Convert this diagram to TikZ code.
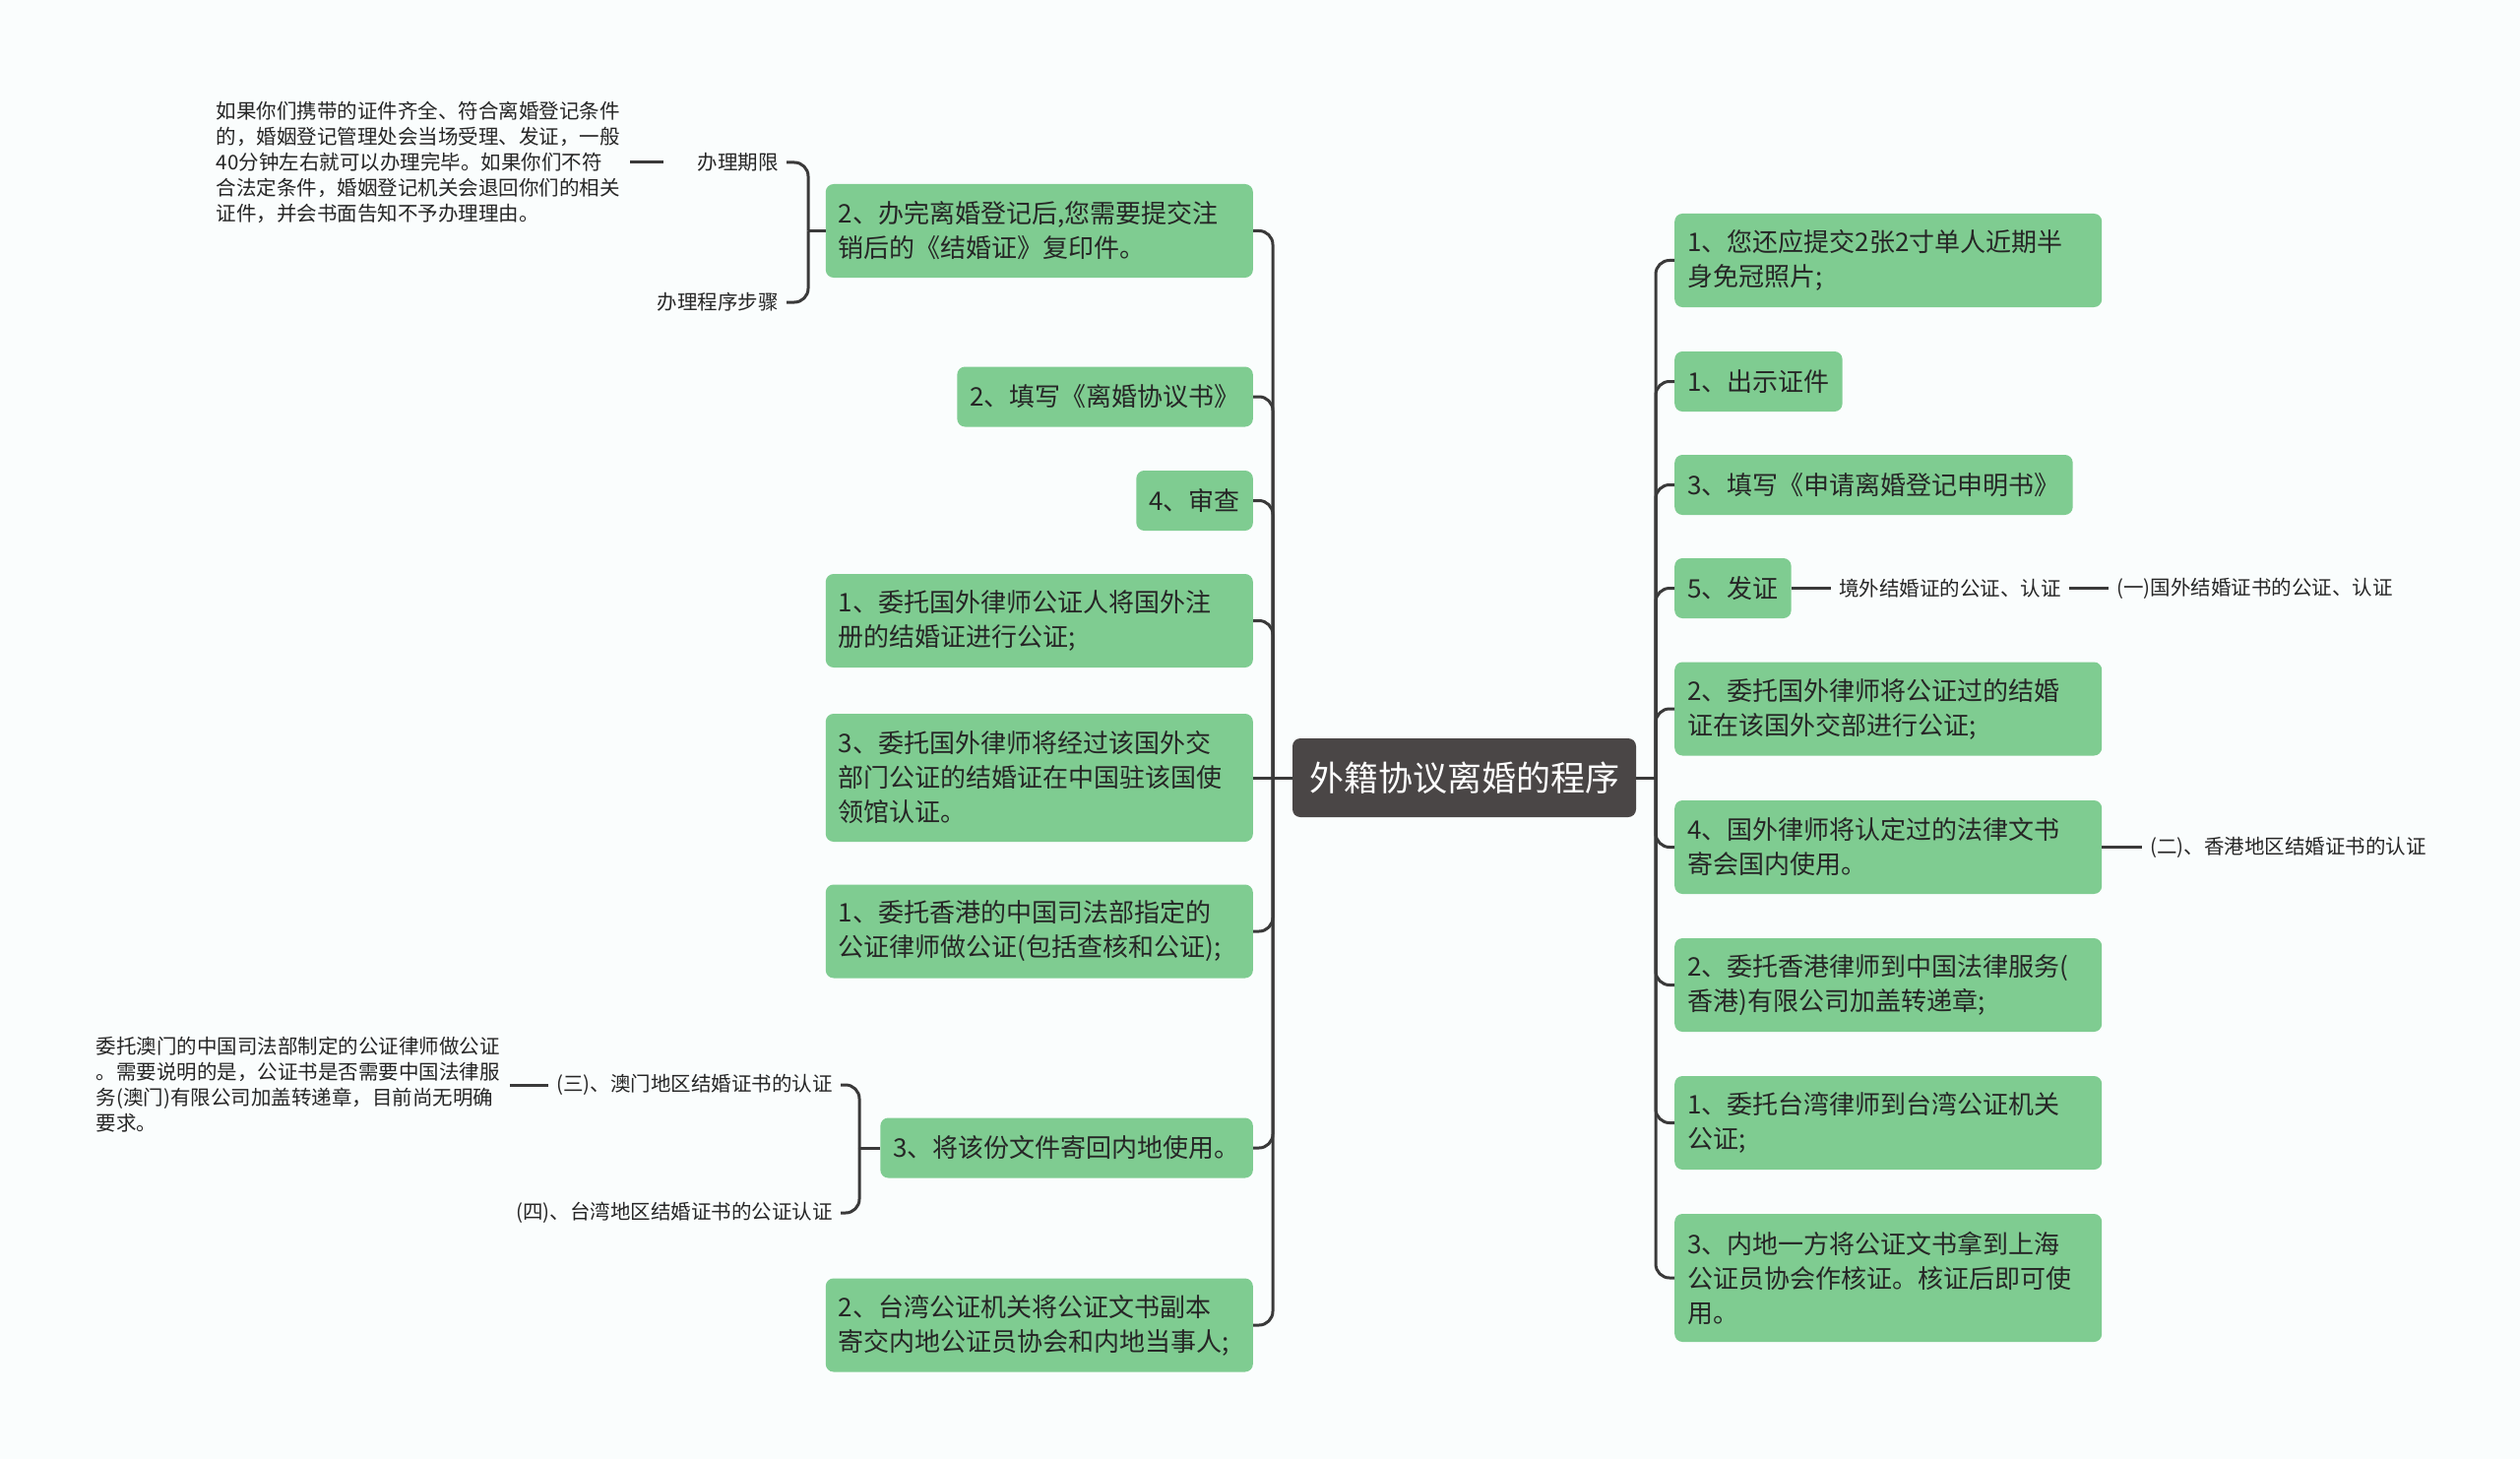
\documentclass[tikz,border=0pt]{standalone}
\usepackage{fontspec}
\newfontfamily\cjk{Noto Sans CJK SC}
\definecolor{bggray}{RGB}{250,253,253}
\definecolor{boxgreen}{RGB}{127,204,145}
\definecolor{rootgray}{RGB}{74,70,70}
\definecolor{linegray}{RGB}{58,58,58}
\definecolor{txtdark}{RGB}{38,38,38}

\begin{document}
\begin{tikzpicture}[x=1pt,y=-1pt,
  gbox/.style={fill=boxgreen, rounded corners=8pt, text=txtdark, font=\cjk\fontsize{26}{35}\selectfont, inner xsep=13pt, inner ysep=0pt, align=left, minimum height=61pt},
  gwide/.style={gbox, text width=408pt, minimum height=#1},
  leaf/.style={font=\cjk\fontsize{20.5}{26}\selectfont, text=txtdark, inner xsep=8pt, inner ysep=2pt},
  link/.style={draw=linegray, line width=3pt, rounded corners=14pt}]
\useasboundingbox (0,0) rectangle (2560,1482);
\fill[bggray] (0,0) rectangle (2560,1482);

\node[fill=rootgray, rounded corners=8pt, text=white, font=\cjk\fontsize{35}{40}\selectfont, minimum width=349pt, minimum height=80pt] (root) at (1487.5,790) {外籍协议离婚的程序};
\coordinate (lt) at (1293,790);
\coordinate (rt) at (1682,790);

\node[gwide=95pt, anchor=east] (l1) at (1273,234.5) {2、办完离婚登记后,您需要提交注\\销后的《结婚证》复印件。};
\node[gbox, anchor=east] (l2) at (1273,403) {2、填写《离婚协议书》};
\node[gbox, anchor=east] (l3) at (1273,508.5) {4、审查};
\node[gwide=95pt, anchor=east] (l4) at (1273,630.5) {1、委托国外律师公证人将国外注\\册的结婚证进行公证;};
\node[gwide=130pt, anchor=east] (l5) at (1273,790) {3、委托国外律师将经过该国外交\\部门公证的结婚证在中国驻该国使\\领馆认证。};
\node[gwide=95pt, anchor=east] (l6) at (1273,946) {1、委托香港的中国司法部指定的\\公证律师做公证(包括查核和公证);};
\node[gbox, anchor=east] (l7) at (1273,1166) {3、将该份文件寄回内地使用。};
\node[gwide=95pt, anchor=east] (l8) at (1273,1346) {2、台湾公证机关将公证文书副本\\寄交内地公证员协会和内地当事人;};

\node[gwide=95pt, anchor=west] (r1) at (1701,264.5) {1、您还应提交2张2寸单人近期半\\身免冠照片;};
\node[gbox, anchor=west] (r2) at (1701,387.5) {1、出示证件};
\node[gbox, anchor=west] (r3) at (1701,492.5) {3、填写《申请离婚登记申明书》};
\node[gbox, anchor=west] (r4) at (1701,597.5) {5、发证};
\node[gwide=95pt, anchor=west] (r5) at (1701,720) {2、委托国外律师将公证过的结婚\\证在该国外交部进行公证;};
\node[gwide=95pt, anchor=west] (r6) at (1701,860.5) {4、国外律师将认定过的法律文书\\寄会国内使用。};
\node[gwide=95pt, anchor=west] (r7) at (1701,1000.5) {2、委托香港律师到中国法律服务(\\香港)有限公司加盖转递章;};
\node[gwide=95pt, anchor=west] (r8) at (1701,1140.5) {1、委托台湾律师到台湾公证机关\\公证;};
\node[gwide=130pt, anchor=west] (r9) at (1701,1298) {3、内地一方将公证文书拿到上海\\公证员协会作核证。核证后即可使\\用。};

\node[leaf, text width=109pt, align=right, anchor=east] (k1) at (799,165) {办理期限};
\node[leaf, anchor=east] (k2) at (799,307) {办理程序步骤};
\node[leaf, text width=412pt, align=left, anchor=east] (p1) at (640,165) {如果你们携带的证件齐全、符合离婚登记条件\\的，婚姻登记管理处会当场受理、发证，一般\\40分钟左右就可以办理完毕。如果你们不符\\合法定条件，婚姻登记机关会退回你们的相关\\证件，并会书面告知不予办理理由。};
\node[leaf, anchor=east] (k3) at (854,1102) {(三)、澳门地区结婚证书的认证};
\node[leaf, anchor=east] (k4) at (854,1232) {(四)、台湾地区结婚证书的公证认证};
\node[leaf, text width=412pt, align=left, anchor=east] (p2) at (518,1102) {委托澳门的中国司法部制定的公证律师做公证\\。需要说明的是，公证书是否需要中国法律服\\务(澳门)有限公司加盖转递章，目前尚无明确\\要求。};
\node[leaf, anchor=west] (s1) at (1860,597.5) {境外结婚证的公证、认证};
\node[leaf, anchor=west] (s2) at (2142,597.5) {(一)国外结婚证书的公证、认证};
\node[leaf, anchor=west] (s3) at (2176,860.5) {(二)、香港地区结婚证书的认证};
\coordinate (b1) at (821,234.5);
\coordinate (b2) at (873,1166);

\draw[link] (lt) -- (root.west);
\draw[link] (root.east) -- (rt);
\foreach \n in {l1,l2,l3,l4,l6,l7,l8} \draw[link] (\n.east) -| (lt);
\draw[link] (l5.east) -- (lt);
\foreach \n in {r1,r2,r3,r4,r5,r6,r7,r8,r9} \draw[link] (rt) |- (\n.west);
\draw[link] (l1.west) -- (b1);
\draw[link] (k1.east) -| (b1);
\draw[link] (k2.east) -| (b1);
\draw[link] (p1.east) -- (k1.west);
\draw[link] (l7.west) -- (b2);
\draw[link] (k3.east) -| (b2);
\draw[link] (k4.east) -| (b2);
\draw[link] (p2.east) -- (k3.west);
\draw[link] (r4.east) -- (s1.west);
\draw[link] (s1.east) -- (s2.west);
\draw[link] (r6.east) -- (s3.west);
\end{tikzpicture}
\end{document}
